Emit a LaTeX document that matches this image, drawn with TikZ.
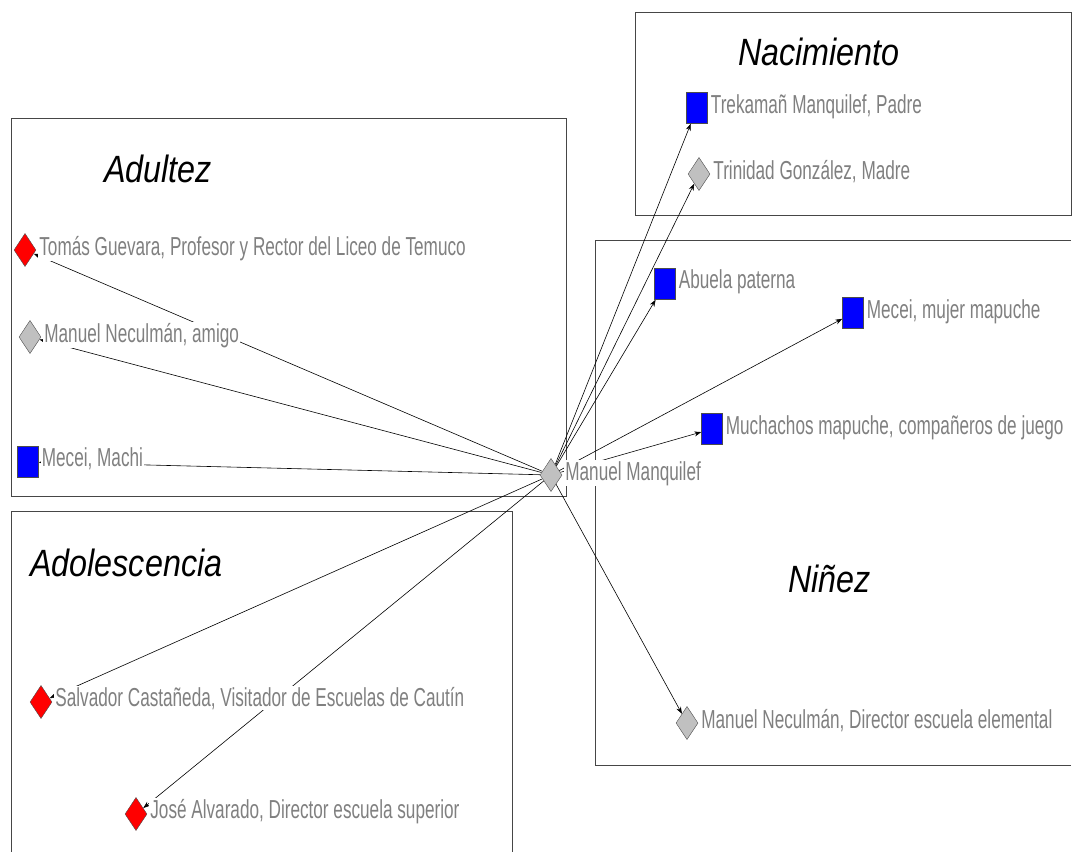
\documentclass[tikz,border=0pt]{standalone}
\usepackage{fontspec}
\setmainfont{Liberation Sans}
\newfontfamily\lblfont[FakeStretch=0.66]{Liberation Sans}
\newfontfamily\ttlfont[FakeStretch=0.85]{Liberation Sans}
\usetikzlibrary{shapes.geometric,arrows.meta,positioning,backgrounds}
\definecolor{txtgray}{RGB}{128,128,128}
\definecolor{framegray}{RGB}{70,70,70}
\definecolor{markgray}{RGB}{192,192,192}
\begin{document}
\begin{tikzpicture}[x=1pt,y=-1pt,
    sq/.style={draw=black!70, fill=blue, minimum width=21pt, minimum height=31pt, inner sep=0pt},
    dia/.style={diamond, draw=black!70, fill=markgray, minimum width=22pt, minimum height=33pt, inner sep=0pt},
    lbl/.style={anchor=base west, fill=white, inner sep=1pt, text=txtgray, font=\lblfont\fontsize{26}{26}\selectfont},
    ttl/.style={anchor=base west, inner sep=0pt, font=\ttlfont\itshape\fontsize{38}{38}\selectfont},
    frame/.style={draw=framegray, line width=0.9pt},
    edge/.style={-{Stealth[length=7pt,width=5pt]}, line width=0.6pt}]
    \useasboundingbox (0,0) rectangle (1072,852);

    \node[ttl] (nacimiento) at (738,65) {Nacimiento};
    \node[ttl] (adultez) at (104,182) {Adultez};
    \node[ttl] (adolescencia) at (30,576) {Adolescencia};
    \node[ttl] (ninez) at (788,592) {Niñez};

    \node[dia] (manquilef) at (551,475) {};
    \node[lbl] (manquilefl) at ([shift={(2,5)}]manquilef.east) {Manuel Manquilef};

    \node[sq] (padre) at (697,108) {};
    \node[lbl] (padrel) at ([shift={(2,5)}]padre.east) {Trekamañ Manquilef, Padre};
    \node[dia] (madre) at (699,174) {};
    \node[lbl] (madrel) at ([shift={(2,5)}]madre.east) {Trinidad González, Madre};

    \node[dia, fill=red] (guevara) at (25,250) {};
    \node[lbl] (guevaral) at ([shift={(2,5)}]guevara.east) {Tomás Guevara, Profesor y Rector del Liceo de Temuco};
    \node[dia] (amigo) at (30,337) {};
    \node[lbl] (amigol) at ([shift={(2,5)}]amigo.east) {Manuel Neculmán, amigo};
    \node[sq] (machi) at (28,462) {};
    \node[lbl] (machil) at ([shift={(2,4)}]machi.east) {Mecei, Machi};

    \node[sq] (abuela) at (665,284) {};
    \node[lbl] (abuelal) at ([shift={(2,4)}]abuela.east) {Abuela paterna};
    \node[sq] (mujer) at (853,313) {};
    \node[lbl] (mujerl) at ([shift={(2,5)}]mujer.east) {Mecei, mujer mapuche};
    \node[sq] (muchachos) at (712,429) {};
    \node[lbl] (muchachosl) at ([shift={(2,5)}]muchachos.east) {Muchachos mapuche, compañeros de juego};
    \node[dia] (director) at (687,723) {};
    \node[lbl] (directorl) at ([shift={(2,5)}]director.east) {Manuel Neculmán, Director escuela elemental};

    \node[dia, fill=red] (castaneda) at (41,702) {};
    \node[lbl] (castanedal) at ([shift={(2,4)}]castaneda.east) {Salvador Castañeda, Visitador de Escuelas de Cautín};
    \node[dia, fill=red] (alvarado) at (136,814) {};
    \node[lbl] (alvaradol) at ([shift={(2,4)}]alvarado.east) {José Alvarado, Director escuela superior};

    \begin{scope}[on background layer]
        \draw[frame] (635,12) rectangle (1071,215);
        \draw[frame] (11,118) rectangle (566,496);
        \draw[frame] (1071,765) -- (595,765) -- (595,240) -- (1071,240);
        \draw[frame] (11,852) -- (11,511) -- (512,511) -- (512,852);

        \foreach \t in {padre,madre,guevara,amigo,machi,abuela,mujer,muchachos,director,castaneda,alvarado}
            \draw[edge] (manquilef) -- (\t);
    \end{scope}
\end{tikzpicture}
\end{document}
